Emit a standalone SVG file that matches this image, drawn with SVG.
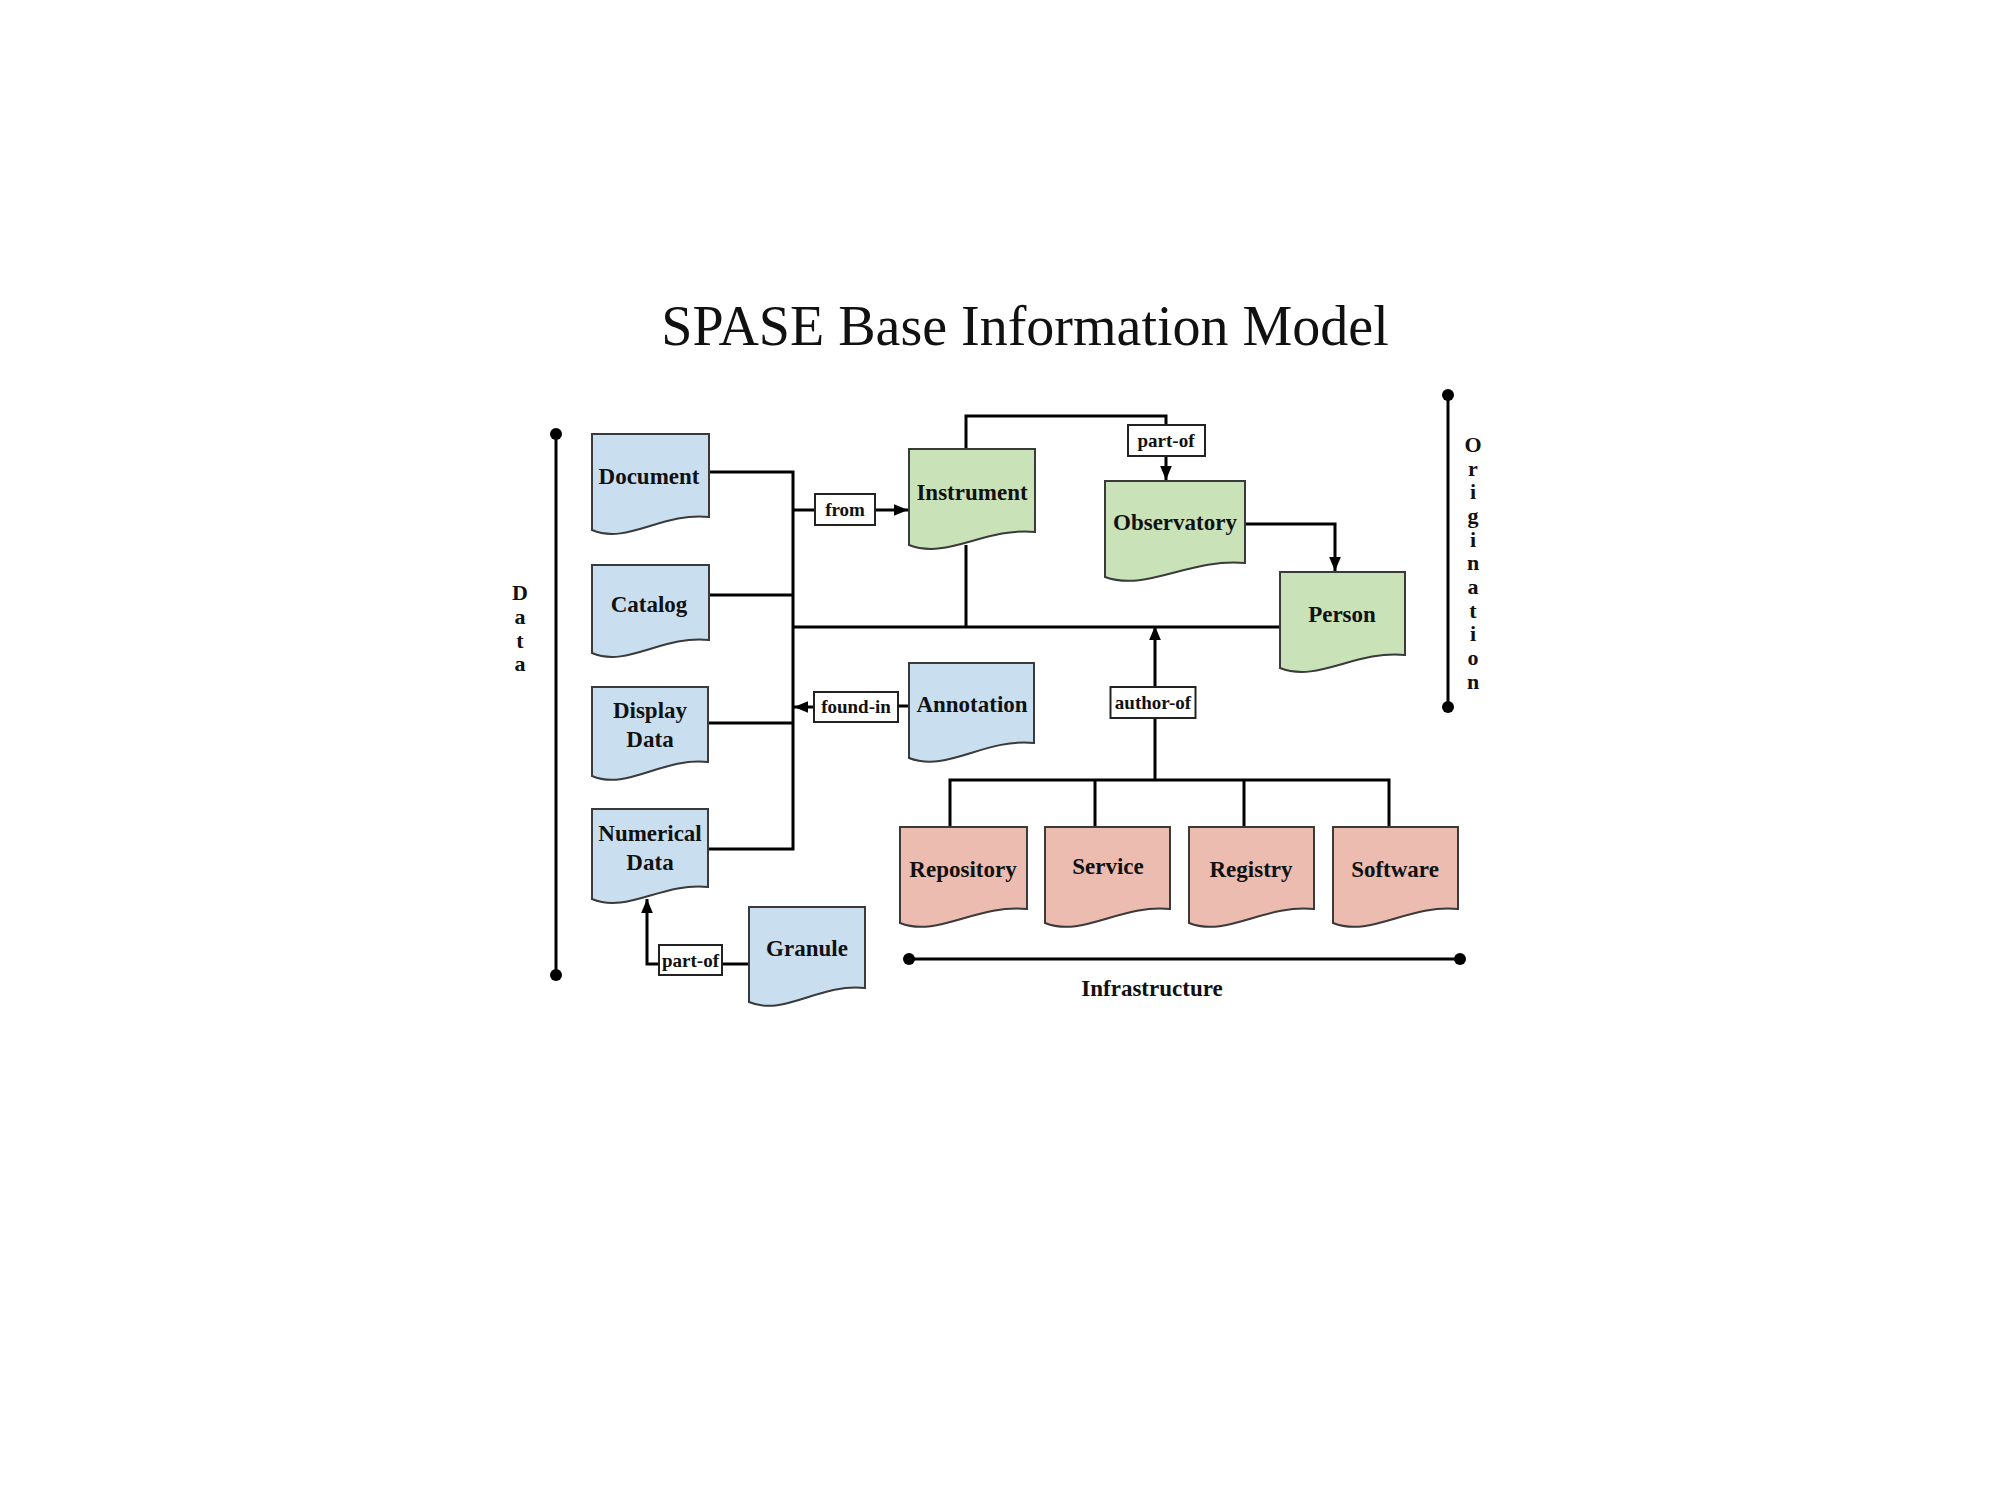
<svg xmlns="http://www.w3.org/2000/svg" width="1999" height="1499" viewBox="0 0 1999 1499">
<style>
.title{font-family:"Liberation Serif","Times New Roman",serif;font-size:56px;fill:#111;text-anchor:middle}
.t{font-family:"Liberation Serif","Times New Roman",serif;font-weight:bold;font-size:23px;fill:#111;text-anchor:middle}
.lt{font-family:"Liberation Serif","Times New Roman",serif;font-weight:bold;font-size:19px;fill:#111;text-anchor:middle}
.side{font-family:"Liberation Serif","Times New Roman",serif;font-weight:bold;font-size:22px;fill:#111;text-anchor:middle}
.c{fill:none;stroke:#000;stroke-width:3}
.lbl{fill:#fff;stroke:#222;stroke-width:2}
.blue{fill:#c9dff0;stroke:#3a3a3a;stroke-width:2}
.green{fill:#c9e2b8;stroke:#3a3a3a;stroke-width:2}
.pink{fill:#ebbcaf;stroke:#3a3a3a;stroke-width:2}
.dot{fill:#000}
</style>
<defs>
<marker id="arr" markerUnits="userSpaceOnUse" markerWidth="14" markerHeight="14" viewBox="0 0 12 12" refX="12" refY="6" orient="auto">
<path d="M0,1 L12,6 L0,11 Z" fill="#000"/>
</marker>
</defs>
<rect width="1999" height="1499" fill="#fff"/>
<text class="title" x="1025" y="345">SPASE Base Information Model</text>

<g id="axes">
<line class="c" x1="556" y1="434" x2="556" y2="975"/>
<circle class="dot" cx="556" cy="434" r="6"/>
<circle class="dot" cx="556" cy="975" r="6"/>
<text class="side" x="520" y="600">D</text>
<text class="side" x="520" y="624">a</text>
<text class="side" x="520" y="648">t</text>
<text class="side" x="520" y="671">a</text>
<line class="c" x1="1448" y1="395" x2="1448" y2="707"/>
<circle class="dot" cx="1448" cy="395" r="6"/>
<circle class="dot" cx="1448" cy="707" r="6"/>
<text class="side" x="1473" y="452">O</text>
<text class="side" x="1473" y="475.6">r</text>
<text class="side" x="1473" y="499.3">i</text>
<text class="side" x="1473" y="523">g</text>
<text class="side" x="1473" y="546.6">i</text>
<text class="side" x="1473" y="570.2">n</text>
<text class="side" x="1473" y="593.9">a</text>
<text class="side" x="1473" y="617.6">t</text>
<text class="side" x="1473" y="641.2">i</text>
<text class="side" x="1473" y="664.9">o</text>
<text class="side" x="1473" y="688.5">n</text>
<line class="c" x1="909" y1="959" x2="1460" y2="959"/>
<circle class="dot" cx="909" cy="959" r="6"/>
<circle class="dot" cx="1460" cy="959" r="6"/>
<text class="t" x="1152" y="996">Infrastructure</text>
</g>

<g id="connectors">
<path class="c" d="M709,472 H793 V849 H708"/>
<path class="c" d="M709,595 H793"/>
<path class="c" d="M708,723 H793"/>
<path class="c" d="M793,627 H1280"/>
<path class="c" d="M793,510 H815"/>
<path class="c" d="M875,510 H908" marker-end="url(#arr)"/>
<path class="c" d="M966,449 V416 H1166 V425"/>
<path class="c" d="M1166,456 V480" marker-end="url(#arr)"/>
<path class="c" d="M966,545 V627"/>
<path class="c" d="M1245,524 H1335 V571" marker-end="url(#arr)"/>
<path class="c" d="M1155,780 V718"/>
<path class="c" d="M1155,687 V626" marker-end="url(#arr)"/>
<path class="c" d="M950,827 V780 H1389 V827"/>
<path class="c" d="M1095,780 V827"/>
<path class="c" d="M1244,780 V827"/>
<path class="c" d="M909,706 H898"/>
<path class="c" d="M814,707 H794" marker-end="url(#arr)"/>
<path class="c" d="M749,964 H722"/>
<path class="c" d="M659,964 H647 V899" marker-end="url(#arr)"/>
<rect class="lbl" x="815" y="494" width="60" height="31"/>
<text class="lt" x="845" y="516">from</text>
<rect class="lbl" x="1128" y="425" width="77" height="31"/>
<text class="lt" x="1166" y="447">part-of</text>
<rect class="lbl" x="814" y="692" width="84" height="30"/>
<text class="lt" x="856" y="713">found-in</text>
<rect class="lbl" x="1110.5" y="687" width="85" height="31"/>
<text class="lt" x="1153" y="709">author-of</text>
<rect class="lbl" x="659" y="945" width="63" height="30"/>
<text class="lt" x="690.5" y="966.5">part-of</text>
</g>

<g id="document">
<path class="blue" d="M592,434 H709 V517 C662,512 627,545 592,530 Z"/>
<text class="t" x="649" y="484">Document</text>
</g>
<g id="catalog">
<path class="blue" d="M592,565 H709 V640 C662,635 627,668 592,653 Z"/>
<text class="t" x="649" y="612">Catalog</text>
</g>
<g id="display-data">
<path class="blue" d="M592,687 H708 V762 C662,757 627,791 592,776 Z"/>
<text class="t" x="650" y="718">Display</text>
<text class="t" x="650" y="747">Data</text>
</g>
<g id="numerical-data">
<path class="blue" d="M592,809 H708 V887 C662,882 627,914 592,899 Z"/>
<text class="t" x="650" y="841">Numerical</text>
<text class="t" x="650" y="870">Data</text>
</g>
<g id="granule">
<path class="blue" d="M749,907 H865 V988 C819,983 784,1017 749,1002 Z"/>
<text class="t" x="807" y="956">Granule</text>
</g>
<g id="instrument">
<path class="green" d="M909,449 H1035 V532 C985,527 947,560 909,545 Z"/>
<text class="t" x="972" y="500">Instrument</text>
</g>
<g id="annotation">
<path class="blue" d="M909,663 H1034 V743 C984,738 947,773 909,758 Z"/>
<text class="t" x="972" y="712">Annotation</text>
</g>
<g id="observatory">
<path class="green" d="M1105,481 H1245 V563 C1189,558 1147,592 1105,577 Z"/>
<text class="t" x="1175" y="530">Observatory</text>
</g>
<g id="person">
<path class="green" d="M1280,572 H1405 V655 C1355,650 1318,683 1280,668 Z"/>
<text class="t" x="1342" y="622">Person</text>
</g>
<g id="repository">
<path class="pink" d="M900,827 H1027 V909 C976,904 938,938 900,923 Z"/>
<text class="t" x="963" y="877">Repository</text>
</g>
<g id="service">
<path class="pink" d="M1045,827 H1170 V909 C1120,904 1083,938 1045,923 Z"/>
<text class="t" x="1108" y="874">Service</text>
</g>
<g id="registry">
<path class="pink" d="M1189,827 H1314 V909 C1264,904 1227,938 1189,923 Z"/>
<text class="t" x="1251" y="877">Registry</text>
</g>
<g id="software">
<path class="pink" d="M1333,827 H1458 V909 C1408,904 1371,938 1333,923 Z"/>
<text class="t" x="1395" y="877">Software</text>
</g>
</svg>
